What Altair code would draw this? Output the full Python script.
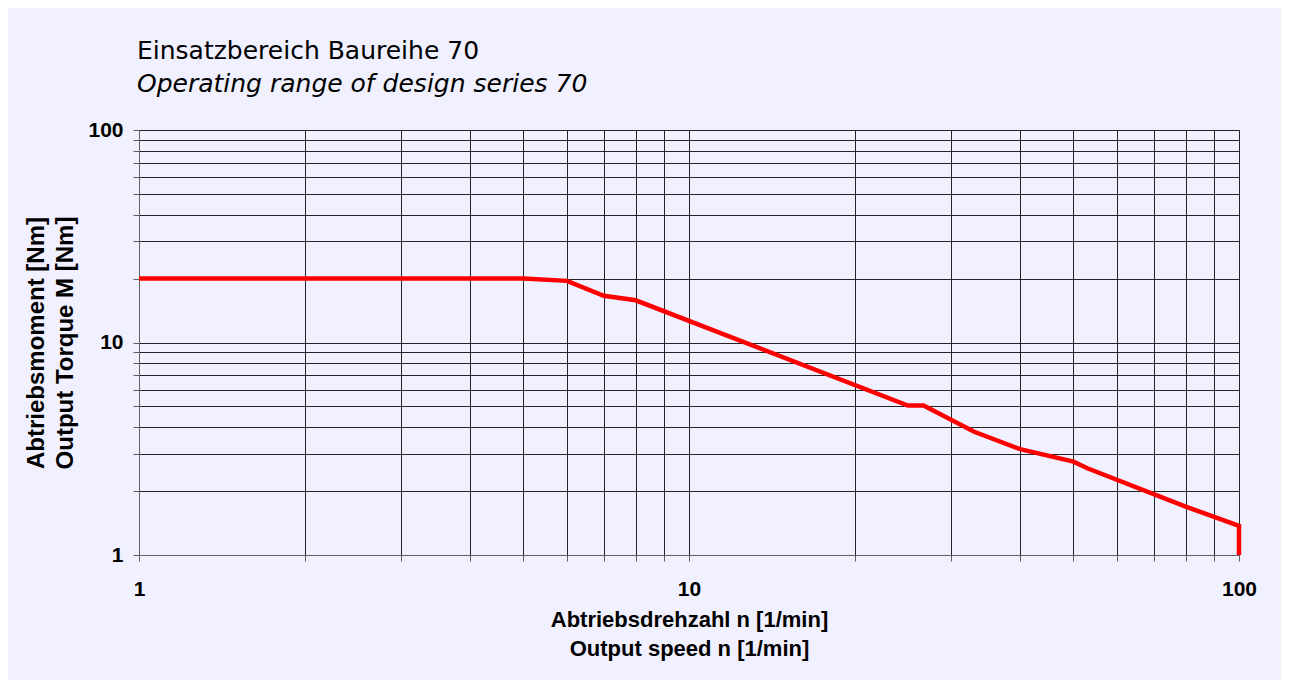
import altair as alt
import pandas as pd

speed = [1, 5, 6, 7, 8, 25, 26.7, 33, 40, 50, 53, 80, 100, 100]
torque = [20, 20, 19.5, 16.6, 15.8, 5.05, 5.05, 3.8, 3.15, 2.75, 2.56, 1.69, 1.37, 1.0]
grid_values = [1, 2, 3, 4, 5, 6, 7, 8, 9, 10, 20, 30, 40, 50, 60, 70, 80, 90, 100]

df = pd.DataFrame({"speed": speed, "torque": torque, "idx": list(range(len(speed)))})

label_expr = "(datum.value == 1 || datum.value == 10 || datum.value == 100) ? toString(datum.value) : ''"

common_axis = dict(
    values=grid_values,
    labelExpr=label_expr,
    labelOverlap=False,
    labelFlush=False,
    labelFont="Liberation Sans",
    labelFontWeight="bold",
    labelFontSize=21,
    labelColor="black",
    titleFont="Liberation Sans",
    titleFontWeight="bold",
    titleColor="black",
    grid=True,
    gridColor="#000000",
    gridOpacity=0.85,
    gridWidth=1,
    domainColor="#606060",
    tickColor="#606060",
    tickSize=6,
)

x_axis = alt.Axis(
    title=["Abtriebsdrehzahl n [1/min]", "Output speed n [1/min]"],
    labelPadding=17,
    titlePadding=10,
    titleFontSize=22,
    titleLineHeight=29,
    **common_axis,
)
y_axis = alt.Axis(
    title=["Abtriebsmoment [Nm]", "Output Torque M [Nm]"],
    labelPadding=10,
    titlePadding=10,
    titleFontSize=24,
    titleLineHeight=29,
    **common_axis,
)

chart = (
    alt.Chart(df)
    .mark_line(color="#FF0000", strokeWidth=4.5)
    .encode(
        x=alt.X("speed:Q", scale=alt.Scale(type="log", domain=[1, 100], nice=False), axis=x_axis),
        y=alt.Y("torque:Q", scale=alt.Scale(type="log", domain=[1, 100], nice=False), axis=y_axis),
        order=alt.Order("idx:Q"),
    )
    .properties(
        width=1100,
        height=425,
        background="#F0F0FE",
        padding={"left": 131, "top": 122, "right": 42, "bottom": 125},
        autosize=alt.AutoSizeParams(type="none"),
        title=alt.Title(
            text="Einsatzbereich Baureihe 70",
            subtitle="Operating range of design series 70",
            anchor="start",
            frame="group",
            font="DejaVu Sans",
            fontSize=25,
            fontWeight="normal",
            color="black",
            subtitleFont="DejaVu Sans",
            subtitleFontSize=25,
            subtitleFontStyle="italic",
            subtitleColor="black",
            subtitlePadding=8,
            offset=22,
            dx=-2,
        ),
    )
    .configure_view(stroke=None)
)

chart.save("out.html", embed_options={"renderer": "svg", "actions": False})
